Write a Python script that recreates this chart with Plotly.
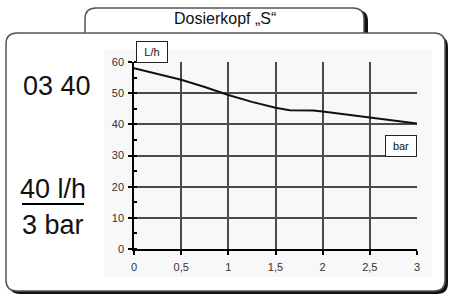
import plotly.graph_objects as go

# ---- data ----
pressure_bar = [0, 0.25, 0.5, 0.75, 1.0, 1.25, 1.5, 1.65, 1.9, 2.0, 2.25, 2.5, 2.75, 3.0]
flow_lh = [58.0, 56.2, 54.3, 52.0, 49.4, 47.2, 45.3, 44.5, 44.4, 44.1, 43.2, 42.2, 41.3, 40.3]
x_ticks = [0, 0.5, 1, 1.5, 2, 2.5, 3]
x_ticklabels = ["0", "0,5", "1", "1,5", "2", "2,5", "3"]
y_ticks = [0, 10, 20, 30, 40, 50, 60]
title_text = "Dosierkopf „S“"
code_text = "03 40"
rate_text = "40 l/h"
press_text = "3 bar"
y_unit = "L/h"
x_unit = "bar"

W, H = 449, 296
ML, MR, MT, MB = 134, 32, 62, 47
PW, PH = W - ML - MR, H - MT - MB


def px(x):
    return (x - ML) / PW


def py(y):
    return (H - MB - y) / PH


def rrect(x0, y0, x1, y1, r, top_only=False):
    # rounded rectangle path in paper coords from pixel coords
    P = lambda x, y: f"{px(x):.5f},{py(y):.5f}"
    if top_only:
        return (f"M {P(x0, y1)} L {P(x0, y0 + r)} Q {P(x0, y0)} {P(x0 + r, y0)} "
                f"L {P(x1 - r, y0)} Q {P(x1, y0)} {P(x1, y0 + r)} L {P(x1, y1)} Z")
    return (f"M {P(x0 + r, y0)} L {P(x1 - r, y0)} Q {P(x1, y0)} {P(x1, y0 + r)} "
            f"L {P(x1, y1 - r)} Q {P(x1, y1)} {P(x1 - r, y1)} L {P(x0 + r, y1)} "
            f"Q {P(x0, y1)} {P(x0, y1 - r)} L {P(x0, y0 + r)} Q {P(x0, y0)} {P(x0 + r, y0)} Z")


shapes = []
# tab shadow + tab
shapes.append(dict(type="path", path=rrect(88, 10, 368, 34, 11, True), xref="paper", yref="paper",
                   fillcolor="#111111", line=dict(width=0), layer="below"))
shapes.append(dict(type="path", path=rrect(85, 8, 364, 34, 11, True), xref="paper", yref="paper",
                   fillcolor="white", line=dict(color="#555555", width=1.5), layer="below"))
# main box shadow + main box
shapes.append(dict(type="path", path=rrect(9, 36, 448, 294, 11), xref="paper", yref="paper",
                   fillcolor="#111111", line=dict(width=0), layer="below"))
shapes.append(dict(type="path", path=rrect(6, 33, 445, 291, 11), xref="paper", yref="paper",
                   fillcolor="white", line=dict(color="#555555", width=1.5), layer="below"))
# light chart background
shapes.append(dict(type="rect", x0=px(104), x1=px(432), y0=py(277), y1=py(50), xref="paper", yref="paper",
                   fillcolor="#f8f8f8", line=dict(width=0), layer="below"))
# fraction line
shapes.append(dict(type="line", x0=px(22), x1=px(84), y0=py(204), y1=py(204), xref="paper", yref="paper",
                   line=dict(color="black", width=2)))

big_font = dict(family="Liberation Sans, Arial", size=27, color="#111111")


def ann(text, x, y, font, **kw):
    return dict(text=text, x=px(x), y=py(y), xref="paper", yref="paper", showarrow=False,
                xanchor="center", yanchor="middle", font=font, **kw)


small_font = dict(family="Liberation Sans, Arial", size=11, color="#111111")
annotations = [
    ann(title_text, 225, 19, dict(family="Liberation Sans, Arial", size=16, color="#111111")),
    ann(code_text, 57, 86, big_font),
    ann(rate_text, 53, 189, big_font),
    ann(press_text, 53, 225, big_font),
    ann(y_unit, 151.5, 51.5, small_font, bgcolor="white", bordercolor="#222222", borderwidth=1,
        borderpad=4, width=22),
    ann(x_unit, 401, 145.5, small_font, bgcolor="white", bordercolor="#222222", borderwidth=1,
        borderpad=4, width=22),
]

fig = go.Figure()
fig.add_trace(go.Scatter(x=pressure_bar, y=flow_lh, mode="lines",
                         line=dict(color="#111111", width=2), hoverinfo="skip"))

tick_font = dict(family="Liberation Sans, Arial", size=11, color="#333333")
fig.update_layout(
    width=W, height=H,
    margin=dict(l=ML, r=MR, t=MT, b=MB, pad=0),
    paper_bgcolor="white",
    plot_bgcolor="rgba(0,0,0,0)",
    showlegend=False,
    shapes=shapes,
    annotations=annotations,
    xaxis=dict(range=[0, 3], tickvals=x_ticks, ticktext=x_ticklabels, showgrid=True,
               gridcolor="#4a4a4a", gridwidth=1.5, showline=True, linecolor="black", linewidth=1.5,
               ticks="outside", ticklen=4, tickcolor="black", tickwidth=1.5, zeroline=False,
               tickfont=tick_font, ticklabelstandoff=3),
    yaxis=dict(range=[0, 60], tickvals=y_ticks, showgrid=True,
               gridcolor="#4a4a4a", gridwidth=1.5, showline=True, linecolor="black", linewidth=1.5,
               ticks="outside", ticklen=4, tickcolor="black", tickwidth=1.5, zeroline=False,
               tickfont=tick_font, ticklabelstandoff=2,
               minor=dict(dtick=5, ticks="inside", ticklen=3, tickcolor="black", showgrid=False)),
)

fig.write_html("out.html", config={"displayModeBar": False},
               post_script="document.body.style.margin='0';")
